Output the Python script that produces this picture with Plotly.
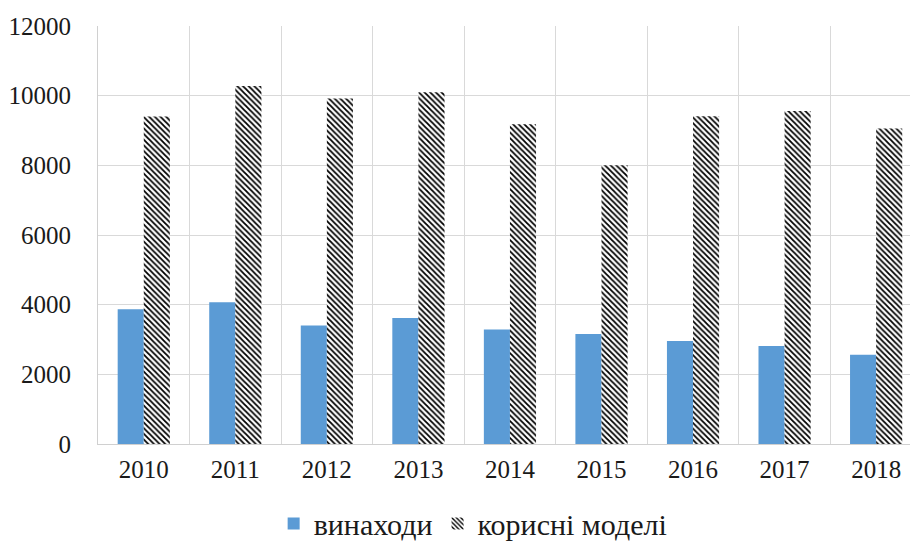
import plotly.graph_objects as go

years = ["2010", "2011", "2012", "2013", "2014", "2015", "2016", "2017", "2018"]
inventions = [3870, 4070, 3400, 3615, 3290, 3160, 2960, 2815, 2560]
utility_models = [9400, 10280, 9920, 10100, 9180, 8000, 9410, 9560, 9060]
y_ticks = [0, 2000, 4000, 6000, 8000, 10000, 12000]

font_family = "Liberation Serif, Times New Roman, serif"

fig = go.Figure()
fig.add_trace(go.Bar(
    x=years, y=inventions, name="винаходи",
    marker=dict(color="#5B9BD5", line=dict(width=0)),
))
fig.add_trace(go.Bar(
    x=years, y=utility_models, name="корисні моделі",
    marker=dict(color="white", line=dict(width=0),
                pattern=dict(shape="\\", fgcolor="black", bgcolor="white",
                             fgopacity=1, size=4, solidity=0.45)),
))

fig.update_layout(
    width=912, height=547,
    margin=dict(l=98, r=2, t=26, b=103, autoexpand=False),
    paper_bgcolor="white", plot_bgcolor="white",
    barmode="group", bargap=0.43, bargroupgap=0,
    font=dict(family=font_family, size=25, color="#1a1a1a"),
    showlegend=True,
    legend=dict(orientation="h", x=0.462, xanchor="center", y=-0.19, yanchor="middle",
                font=dict(size=30, family=font_family, color="#1a1a1a"),
                itemsizing="constant", itemwidth=30),
)
fig.update_xaxes(
    type="category", range=[-0.5, 8.37], automargin=False,
    tickson="boundaries", showgrid=True, gridcolor="#d9d9d9", gridwidth=1,
    showline=True, linecolor="#d0d0d0", linewidth=1,
    ticks="", ticklabelstandoff=3,
    tickfont=dict(size=25, family=font_family, color="#1a1a1a"),
)
fig.update_yaxes(
    range=[0, 12000], tickvals=y_ticks, ticktext=[str(v) for v in y_ticks],
    automargin=False,
    showgrid=True, gridcolor="#d9d9d9", gridwidth=1, zeroline=False,
    showline=True, linecolor="#d0d0d0", linewidth=1,
    ticks="", ticklabelstandoff=21,
    tickfont=dict(size=25, family=font_family, color="#1a1a1a"),
)

fig.write_html("out.html", config={"displayModeBar": False},
               post_script="document.body.style.margin='0';")
